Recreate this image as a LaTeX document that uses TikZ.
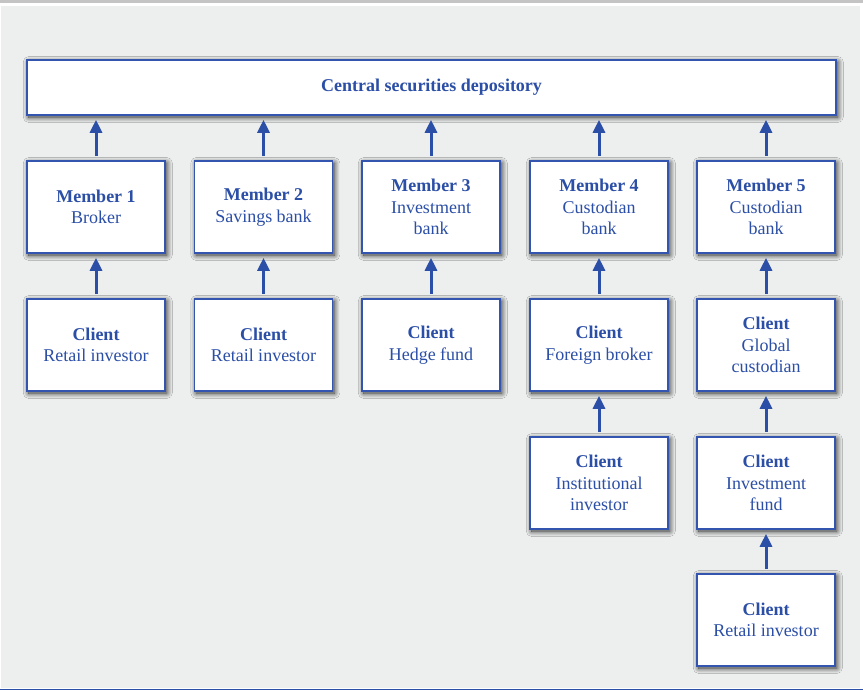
\documentclass[tikz,border=0pt]{standalone}
\usepackage{fontspec}
\setmainfont{Liberation Serif}
\usetikzlibrary{arrows.meta,shadows.blur}
\definecolor{ink}{HTML}{2B4EA6}
\definecolor{frame}{HTML}{3355AF}
\definecolor{paper}{HTML}{EDEEEE}
\definecolor{topbar}{HTML}{C3C4C3}
\tikzset{
  x=1pt, y=-1pt,
  box/.style={draw=frame, line width=1.6pt, fill=white, text=ink,
    minimum width=138pt, minimum height=92pt, inner sep=0pt,
    align=center, font=\fontsize{18}{21.5}\selectfont,
    blur shadow={shadow xshift=1.8pt, shadow yshift=-2pt,
      shadow blur radius=5.5pt, shadow blur steps=14,
      shadow opacity=85}},
  link/.style={draw=ink, line width=3pt,
    -{Triangle[width=12pt,length=13pt]},
    shorten <=4pt, shorten >=4pt}
}
\begin{document}
\begin{tikzpicture}
% page background and rules
\useasboundingbox (0,0) rectangle (863,690);
\fill[white] (0,0) rectangle (863,690);
\fill[paper] (1,6) rectangle (860,688);
\fill[topbar] (0,0) rectangle (863,3.2);
\fill[ink] (0,688.6) rectangle (863,690);

% depository
\node[box, minimum width=809pt, minimum height=55pt] (csd) at (431.5,87.5)
  {\textbf{Central securities depository}};

% members
\node[box] (m1) at (96,207)  {\textbf{Member 1}\\Broker};
\node[box] (m2) at (263.5,207) {\textbf{Member 2}\\Savings bank};
\node[box] (m3) at (431,207) {\textbf{Member 3}\\Investment\\bank};
\node[box] (m4) at (599,207) {\textbf{Member 4}\\Custodian\\bank};
\node[box] (m5) at (766,207) {\textbf{Member 5}\\Custodian\\bank};

% first tier of clients
\node[box] (c1) at (96,345)  {\textbf{Client}\\Retail investor};
\node[box] (c2) at (263.5,345) {\textbf{Client}\\Retail investor};
\node[box] (c3) at (431,345) {\textbf{Client}\\Hedge fund};
\node[box] (c4) at (599,345) {\textbf{Client}\\Foreign broker};
\node[box] (c5) at (766,345) {\textbf{Client}\\Global\\custodian};

% deeper clients
\node[box] (d4) at (599,483) {\textbf{Client}\\Institutional\\investor};
\node[box] (d5) at (766,483) {\textbf{Client}\\Investment\\fund};
\node[box] (e5) at (766,620) {\textbf{Client}\\Retail investor};

% holding chains
\foreach \m in {m1,m2,m3,m4,m5}
  \draw[link] (\m.north) -- (\m.north |- csd.south);
\draw[link] (c1) -- (m1);
\draw[link] (c2) -- (m2);
\draw[link] (c3) -- (m3);
\draw[link] (c4) -- (m4);
\draw[link] (c5) -- (m5);
\draw[link] (d4) -- (c4);
\draw[link] (d5) -- (c5);
\draw[link] (e5) -- (d5);
\end{tikzpicture}
\end{document}
